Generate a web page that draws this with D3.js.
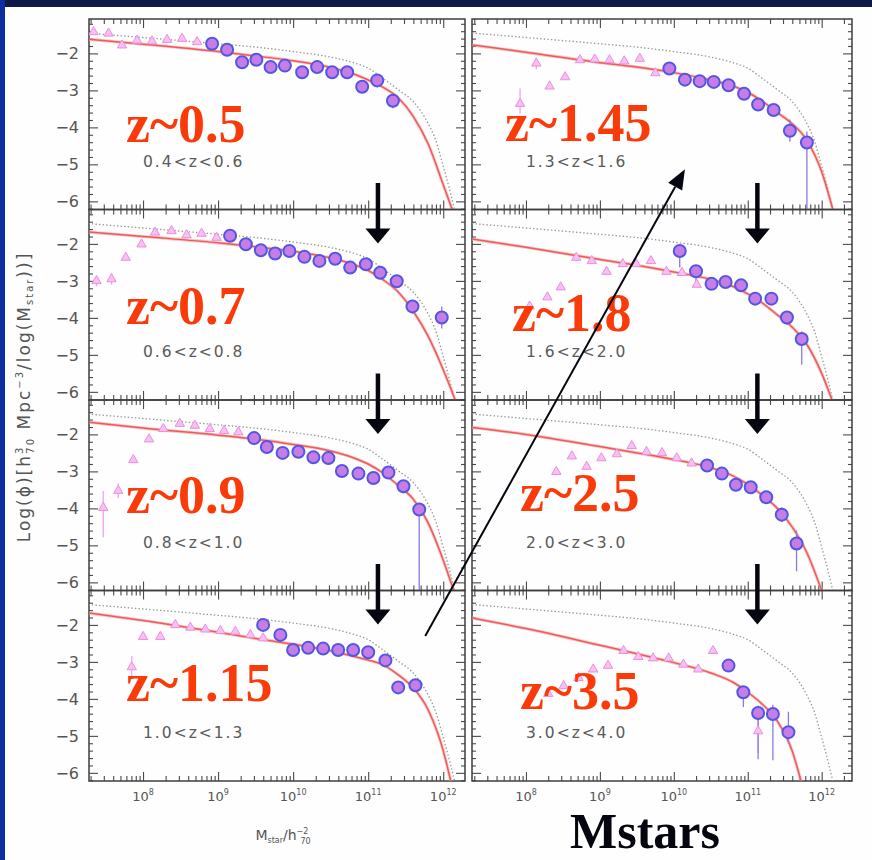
<!DOCTYPE html>
<html>
<head>
<meta charset="utf-8">
<script src="https://cdn.jsdelivr.net/npm/d3@7"></script>
<style>
  html, body { margin: 0; padding: 0; background: #fdfefd; }
  svg { display: block; }
</style>
</head>
<body>
<svg id="chart" width="872" height="860"></svg>
<script>
// ---------------- data ----------------
// Redshift bins, left column top to bottom, then right column top to bottom
const zLabels = ["z~0.5", "z~0.7", "z~0.9", "z~1.15", "z~1.45", "z~1.8", "z~2.5", "z~3.5"];
const zRanges = ["0.4<z<0.6", "0.6<z<0.8", "0.8<z<1.0", "1.0<z<1.3",
                 "1.3<z<1.6", "1.6<z<2.0", "2.0<z<3.0", "3.0<z<4.0"];

// x ticks: log10 of stellar mass; y ticks: log(phi)
const xTickExponents = [8, 9, 10, 11, 12];
const yTickValues = [-2, -3, -4, -5, -6];

// Local (z~0) mass function, drawn dotted in every panel: [log M, log phi]
const localMF = [[7.27,-1.45],[8.0,-1.57],[9.0,-1.74],[9.5,-1.83],[10.0,-1.95],[10.5,-2.1],
  [10.8,-2.25],[11.0,-2.4],[11.2,-2.68],[11.4,-2.98],[11.6,-3.3],[11.8,-3.9],[11.9,-4.35],
  [12.0,-5.05],[12.1,-5.8],[12.15,-6.22]];

// Schechter fits per bin: [log M, log phi]
const fitZ05 = [[7.28,-1.62],[8.0,-1.75],[9.0,-1.95],[9.5,-2.07],[10.0,-2.2],[10.5,-2.38],[10.8,-2.55],
  [11.0,-2.72],[11.2,-2.92],[11.4,-3.2],[11.6,-3.7],[11.8,-4.45],[12.0,-5.55],[12.12,-6.22]];
const fitZ07 = [[7.28,-1.68],[8.0,-1.8],[9.0,-1.97],[9.5,-2.08],[10.0,-2.2],[10.5,-2.38],[10.8,-2.55],
  [11.0,-2.72],[11.2,-2.97],[11.4,-3.3],[11.6,-3.82],[11.8,-4.5],[12.0,-5.4],[12.16,-6.22]];
const fitZ09 = [[7.28,-1.67],[8.0,-1.83],[9.0,-2.02],[9.5,-2.13],[10.0,-2.27],[10.5,-2.45],[10.8,-2.63],
  [11.0,-2.8],[11.2,-3.05],[11.4,-3.38],[11.6,-3.75],[11.8,-4.4],[12.0,-5.4],[12.14,-6.22]];
const fitZ115 = [[7.28,-1.68],[8.0,-1.88],[9.0,-2.2],[9.6,-2.4],[10.0,-2.52],[10.5,-2.7],[10.8,-2.85],
  [11.0,-2.95],[11.2,-3.08],[11.4,-3.35],[11.6,-3.7],[11.8,-4.3],[12.0,-5.4],[12.1,-6.22]];
const fitZ145 = [[7.27,-1.77],[8.0,-1.97],[9.0,-2.25],[9.5,-2.37],[10.0,-2.52],[10.5,-2.72],[10.8,-2.88],
  [11.0,-3.05],[11.2,-3.3],[11.4,-3.6],[11.6,-3.9],[11.8,-4.35],[12.0,-5.2],[12.15,-6.22]];
const fitZ18 = [[7.27,-1.87],[8.0,-2.09],[9.0,-2.42],[9.5,-2.58],[10.0,-2.76],[10.5,-2.96],[10.8,-3.15],
  [11.0,-3.35],[11.2,-3.6],[11.4,-3.92],[11.6,-4.25],[11.8,-4.72],[12.0,-5.5],[12.14,-6.22]];
const fitZ25 = [[7.27,-1.81],[8.0,-2.0],[9.0,-2.33],[9.5,-2.5],[10.0,-2.68],[10.5,-2.9],[10.8,-3.12],
  [11.0,-3.35],[11.2,-3.65],[11.4,-4.0],[11.6,-4.5],[11.8,-5.2],[11.95,-5.95],[12.0,-6.22]];
const fitZ35 = [[7.27,-1.81],[8.0,-2.1],[9.0,-2.55],[9.5,-2.78],[10.0,-3.02],[10.5,-3.3],[10.8,-3.55],
  [11.0,-3.82],[11.2,-4.15],[11.4,-4.6],[11.6,-5.4],[11.72,-6.22]];

// High-mass sample (circles): [log M, log phi, err down, err up]
const highZ05 = [[8.92,-1.74],[9.12,-1.90],[9.32,-2.24],[9.51,-2.17],[9.70,-2.37],[9.89,-2.33],[10.12,-2.51],
  [10.32,-2.37],[10.52,-2.51],[10.72,-2.51],[10.92,-2.90],[11.12,-2.73],[11.33,-3.28,0.2,0.15]];
const highZ07 = [[9.16,-1.78],[9.37,-2.01],[9.57,-2.17],[9.76,-2.26],[9.95,-2.19],[10.15,-2.35],[10.35,-2.46],
  [10.56,-2.40],[10.76,-2.64],[10.97,-2.55],[11.16,-2.78],[11.38,-3.01],[11.59,-3.69,0.2,0.15],[11.98,-3.99,0.3,0.3]];
const highZ09 = [[9.48,-2.10],[9.65,-2.34],[9.86,-2.50],[10.07,-2.47],[10.27,-2.62],[10.47,-2.64],[10.65,-2.99],
  [10.87,-3.06],[11.07,-3.18],[11.27,-3.03],[11.47,-3.40,0.2,0.1],[11.68,-4.03,2.3,0.15]];
const highZ115 = [[9.60,-2.00],[9.83,-2.27],[10.0,-2.68],[10.2,-2.62],[10.4,-2.64],[10.6,-2.68],[10.8,-2.68],
  [11.0,-2.74],[11.23,-2.96],[11.4,-3.69,0.15,0.1],[11.63,-3.63,0.15,0.1]];
const highZ145 = [[9.94,-2.41],[10.15,-2.71],[10.35,-2.75],[10.54,-2.77],[10.74,-2.86],[10.95,-3.09],
  [11.14,-3.38,0.15,0.1],[11.35,-3.53],[11.57,-4.09,0.3,0.3],[11.80,-4.41,1.85,0.3]];
const highZ18 = [[10.08,-2.19,0.45,0.1],[10.30,-2.74,0.4,0.1],[10.51,-3.08],[10.70,-3.03],[10.91,-3.12],
  [11.10,-3.48],[11.32,-3.48],[11.53,-3.99,0.2,0.15],[11.73,-4.57,0.7,0.2]];
const highZ25 = [[10.45,-2.84],[10.65,-3.06],[10.84,-3.36],[11.04,-3.43],[11.25,-3.70],
  [11.46,-4.17,0.2,0.2],[11.66,-4.95,0.75,0.35]];
const highZ35 = [[10.74,-3.10,0.15,0.15],[10.94,-3.82,0.4,0.1],[11.14,-4.38,1.25,0.2],
  [11.34,-4.41,1.25,0.25],[11.55,-4.90,0.3,0.55]];

// Low-mass sample (triangles): [log M, log phi, err down, err up]
const lowZ05 = [[7.34,-1.42],[7.54,-1.46],[7.72,-1.78],[7.92,-1.65],[8.12,-1.67],[8.32,-1.63],[8.52,-1.60],[8.72,-1.69]];
const lowZ07 = [[7.38,-3.0,0.15,0.15],[7.58,-2.95,0.15,0.15],[7.77,-2.37],[7.98,-2.01],[8.16,-1.69],
  [8.38,-1.65],[8.58,-1.76],[8.78,-1.72],[8.98,-1.83]];
const lowZ09 = [[7.47,-3.98,0.8,0.45],[7.67,-3.52,0.2,0.2],[7.87,-2.69],[8.08,-2.13],[8.27,-1.85],
  [8.49,-1.71],[8.69,-1.76],[8.89,-1.85],[9.08,-1.90],[9.27,-1.94]];
const lowZ115 = [[7.85,-3.14,0.3,0.3],[8.0,-2.32],[8.23,-2.32],[8.43,-2.0],[8.63,-2.07],[8.83,-2.12],
  [9.03,-2.16],[9.23,-2.18],[9.43,-2.27],[9.6,-2.36]];
const lowZ145 = [[7.92,-3.36,0.27,0.41],[8.14,-2.27,0.15,0.15],[8.32,-2.89],[8.53,-2.64],[8.73,-2.18],
  [8.93,-2.16],[9.13,-2.18],[9.33,-2.21],[9.54,-2.14],[9.75,-2.53]];
const lowZ18 = [[8.05,-3.69],[8.29,-3.44],[8.47,-3.17],[8.68,-2.37],[8.89,-2.46],[9.09,-2.75],[9.31,-2.54],
  [9.49,-2.54],[9.69,-2.46],[9.90,-2.75],[10.11,-2.78],[10.31,-3.10]];
const lowZ25 = [[8.41,-3.01],[8.62,-2.59],[8.82,-2.87],[9.02,-2.64],[9.23,-2.53],[9.43,-2.31],[9.63,-2.47],
  [9.84,-2.5],[10.04,-2.64],[10.24,-2.78]];
const lowZ35 = [[8.30,-3.86],[8.51,-3.65],[8.71,-3.43],[8.91,-3.20],[9.11,-3.10],[9.32,-2.70],[9.52,-2.86],
  [9.72,-2.90],[9.93,-2.90],[10.13,-3.07],[10.33,-3.20],[10.53,-2.70],[11.14,-4.87,0.6,0.4]];

const fits = [fitZ05, fitZ07, fitZ09, fitZ115, fitZ145, fitZ18, fitZ25, fitZ35];
const highSamples = [highZ05, highZ07, highZ09, highZ115, highZ145, highZ18, highZ25, highZ35];
const lowSamples = [lowZ05, lowZ07, lowZ09, lowZ115, lowZ145, lowZ18, lowZ25, lowZ35];

// ---------------- layout ----------------
const rowTops = [19, 209.5, 400, 590.5, 781];
const columns = [
  { x0: 89,  x1: 465, lo: 7.28, hi: 12.29 },
  { x0: 472, x1: 852, lo: 7.27, hi: 12.41 }
];
const yDomain = [-6.22, -1.07];
const zLabelOffset = [[37,123],[37,114],[37,113],[37,110],[33,122],[40,121],[48,111],[48,118]];

const svg = d3.select("#chart");
svg.append("rect").attr("width", 872).attr("height", 860).attr("fill", "#fdfefd");
svg.append("rect").attr("x", 0).attr("y", 0).attr("width", 872).attr("height", 7).attr("fill", "#0b1a48");
svg.append("rect").attr("x", 0).attr("y", 0).attr("width", 5).attr("height", 860).attr("fill", "#0d2f9e");

const defs = svg.append("defs");

function makeScales(col, row) {
  const c = columns[col];
  const x = d3.scaleLog().domain([10 ** c.lo, 10 ** c.hi]).range([c.x0, c.x1]);
  const y = d3.scaleLinear().domain(yDomain).range([rowTops[row + 1], rowTops[row]]);
  return { x, y, c, top: rowTops[row], bottom: rowTops[row + 1] };
}

const panelScales = [];

zLabels.forEach((lab, i) => {
  const col = Math.floor(i / 4), row = i % 4;
  const s = makeScales(col, row);
  panelScales.push(s);
  const { x, y, c, top, bottom } = s;
  const g = svg.append("g");

  const clipId = "clip" + i;
  defs.append("clipPath").attr("id", clipId)
    .append("rect").attr("x", c.x0).attr("y", top).attr("width", c.x1 - c.x0).attr("height", bottom - top);

  // tick values
  const major = [], minor = [];
  for (let d = 7; d <= 12; d++) {
    for (let m = 1; m <= 9; m++) {
      const v = m * 10 ** d;
      if (v < 10 ** c.lo || v > 10 ** c.hi) continue;
      (m === 1 ? major : minor).push(v);
    }
  }
  const yMajor = [-6, -5, -4, -3, -2];
  const yMinor = d3.range(-62, -10, 2).map(v => v / 10).filter(v => Math.abs(v - Math.round(v)) > 1e-6);

  const tickStyle = sel => {
    sel.select(".domain").remove();
    sel.selectAll("line").attr("stroke", "#4a4a4a").attr("stroke-width", 1.1);
    sel.selectAll("text").remove();
  };
  const addAxis = (gen, tr) => g.append("g").attr("transform", tr).call(gen).call(tickStyle);

  addAxis(d3.axisBottom(x).tickValues(major).tickSize(-9), `translate(0,${bottom})`);
  addAxis(d3.axisBottom(x).tickValues(minor).tickSize(-5), `translate(0,${bottom})`);
  addAxis(d3.axisTop(x).tickValues(major).tickSize(-9), `translate(0,${top})`);
  addAxis(d3.axisTop(x).tickValues(minor).tickSize(-5), `translate(0,${top})`);
  addAxis(d3.axisLeft(y).tickValues(yMajor).tickSize(-9), `translate(${c.x0},0)`);
  addAxis(d3.axisLeft(y).tickValues(yMinor).tickSize(-4), `translate(${c.x0},0)`);
  addAxis(d3.axisRight(y).tickValues(yMajor).tickSize(-9), `translate(${c.x1},0)`);
  addAxis(d3.axisRight(y).tickValues(yMinor).tickSize(-4), `translate(${c.x1},0)`);

  // frame
  g.append("rect").attr("x", c.x0).attr("y", top).attr("width", c.x1 - c.x0).attr("height", bottom - top)
    .attr("fill", "none").attr("stroke", "#3e3e3e").attr("stroke-width", 1.5);

  const plot = g.append("g").attr("clip-path", `url(#${clipId})`);
  const line = d3.line().x(d => x(10 ** d[0])).y(d => y(d[1])).curve(d3.curveMonotoneX);

  // local mass function (dotted)
  plot.append("path").attr("d", line(localMF)).attr("fill", "none")
    .attr("stroke", "#8f9a90").attr("stroke-width", 1.3).attr("stroke-dasharray", "1.4,2.2");

  // fit (red)
  plot.append("path").attr("d", line(fits[i])).attr("fill", "none")
    .attr("stroke", "#f7a0a0").attr("stroke-width", 3.2).attr("opacity", 0.6);
  plot.append("path").attr("d", line(fits[i])).attr("fill", "none")
    .attr("stroke", "#ec5a5a").attr("stroke-width", 1.5);

  // error bars
  const errs = (data, color) => plot.append("g").selectAll("line")
    .data(data.filter(d => d.length > 2)).join("line")
    .attr("x1", d => x(10 ** d[0])).attr("x2", d => x(10 ** d[0]))
    .attr("y1", d => y(d[1] - d[2])).attr("y2", d => y(d[1] + d[3]))
    .attr("stroke", color).attr("stroke-width", 1.3);
  errs(lowSamples[i], "#f0a4ea");
  errs(highSamples[i], "#8a7ae6");

  // low-mass triangles
  plot.append("g").selectAll("path").data(lowSamples[i]).join("path")
    .attr("transform", d => `translate(${x(10 ** d[0])},${y(d[1])})`)
    .attr("d", d3.symbol(d3.symbolTriangle, 38))
    .attr("fill", "#f6c0f0").attr("stroke", "#ec8ee0").attr("stroke-width", 1);

  // high-mass circles
  plot.append("g").selectAll("circle").data(highSamples[i]).join("circle")
    .attr("cx", d => x(10 ** d[0])).attr("cy", d => y(d[1])).attr("r", 6)
    .attr("fill", "#c67ee6").attr("stroke", "#5356e2").attr("stroke-width", 2);

  // labels
  const [dx, dy] = zLabelOffset[i];
  svg.append("text").attr("x", c.x0 + dx).attr("y", top + dy)
    .attr("font-family", "'Liberation Serif', 'Times New Roman', serif").attr("font-weight", "bold")
    .attr("font-size", 54).attr("fill", "#fb3a0a").text(lab);
  svg.append("text").attr("x", c.x0 + 54).attr("y", top + 147.5)
    .attr("font-family", "'DejaVu Sans', sans-serif").attr("font-size", 15.5).attr("letter-spacing", 2)
    .attr("fill", "#5a5a5a").text(zRanges[i]);
});

// y tick labels on the left column
for (let row = 0; row < 4; row++) {
  const { y } = panelScales[row];
  svg.append("g").selectAll("text").data(yTickValues).join("text")
    .attr("x", 79).attr("y", d => y(d) + 6).attr("text-anchor", "end")
    .attr("font-family", "'DejaVu Sans', sans-serif").attr("font-size", 16).attr("fill", "#555")
    .text(d => "\u2212" + Math.abs(d));
}

// x tick labels under the bottom row
[3, 7].forEach(i => {
  const { x, bottom } = panelScales[i];
  const t = svg.append("g").selectAll("text").data(xTickExponents).join("text")
    .attr("x", d => x(10 ** d)).attr("y", bottom + 20).attr("text-anchor", "middle")
    .attr("font-family", "'DejaVu Sans', sans-serif").attr("font-size", 13).attr("fill", "#555");
  t.append("tspan").text("10");
  t.append("tspan").attr("dy", -6).attr("font-size", 8).text(d => d);
});

// axis titles
const yTitle = svg.append("text").attr("transform", "translate(30,397) rotate(-90)")
  .attr("text-anchor", "middle").attr("font-family", "'DejaVu Sans', sans-serif")
  .attr("font-size", 17).attr("letter-spacing", 2).attr("fill", "#555");
yTitle.append("tspan").text("Log(\u03d5)[h");
yTitle.append("tspan").attr("dy", -7).attr("font-size", 10).text("3");
yTitle.append("tspan").attr("dx", -8).attr("dy", 11).attr("font-size", 10).text("70");
yTitle.append("tspan").attr("dy", -4).text(" Mpc");
yTitle.append("tspan").attr("dy", -7).attr("font-size", 10).text("\u22123");
yTitle.append("tspan").attr("dy", 7).text("/log(M");
yTitle.append("tspan").attr("dy", 3).attr("font-size", 10).text("star");
yTitle.append("tspan").attr("dy", -3).text("))]");

const xTitle = svg.append("text").attr("x", 283).attr("y", 840).attr("text-anchor", "middle")
  .attr("font-family", "'DejaVu Sans', sans-serif").attr("font-size", 14).attr("fill", "#555");
xTitle.append("tspan").text("M");
xTitle.append("tspan").attr("dy", 3).attr("font-size", 8).text("star");
xTitle.append("tspan").attr("dy", -3).text("/h");
xTitle.append("tspan").attr("dy", -6).attr("font-size", 8).text("\u22122");
xTitle.append("tspan").attr("dx", -8).attr("dy", 10).attr("font-size", 8).text("70");

// "Mstars" caption
svg.append("text").attr("x", 570).attr("y", 848)
  .attr("font-family", "'Liberation Serif', 'Times New Roman', serif").attr("font-weight", "bold")
  .attr("font-size", 50).attr("fill", "#050510")
  .attr("textLength", 150).attr("lengthAdjust", "spacingAndGlyphs").text("Mstars");

// downward arrows between redshift bins, placed at log M = 11.13
const arrowMass = 11.13;
for (let col = 0; col < 2; col++) {
  for (let row = 0; row < 3; row++) {
    const s = panelScales[col * 4 + row];
    const ax = s.x(10 ** arrowMass);
    const y0 = rowTops[row] + 164, tip = rowTops[row + 1] + 34;
    svg.append("line").attr("x1", ax).attr("x2", ax).attr("y1", y0).attr("y2", tip - 12)
      .attr("stroke", "#05060f").attr("stroke-width", 4.5);
    svg.append("path").attr("d", `M${ax - 12.5},${tip - 15} L${ax + 12.5},${tip - 15} L${ax},${tip} Z`)
      .attr("fill", "#05060f");
  }
}

// diagonal arrow from the z~1.15 bin up to the z~1.45 bin
{
  const s0 = panelScales[3], s1 = panelScales[4];
  const xa = s0.x(10 ** 11.76), ya = s0.y(-2.3);
  const xb = s1.x(10 ** 10.15), yb = s1.y(-5.13);
  const ang = Math.atan2(yb - ya, xb - xa);
  const L = 20, Wd = 8;
  const bx = xb - L * Math.cos(ang), by = yb - L * Math.sin(ang);
  svg.append("line").attr("x1", xa).attr("y1", ya).attr("x2", bx).attr("y2", by)
    .attr("stroke", "#05060f").attr("stroke-width", 2);
  const px = -Math.sin(ang) * Wd, py = Math.cos(ang) * Wd;
  svg.append("path").attr("d", `M${xb},${yb} L${bx + px},${by + py} L${bx - px},${by - py} Z`)
    .attr("fill", "#05060f");
}
</script>
</body>
</html>
